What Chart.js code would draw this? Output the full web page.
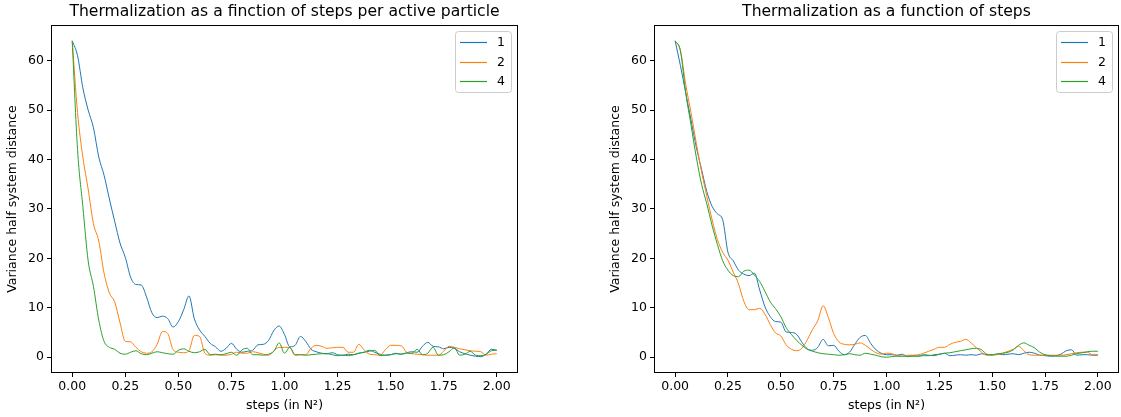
<!DOCTYPE html>
<html>
<head>
<meta charset="utf-8">
<script src="https://cdn.jsdelivr.net/npm/chart.js@4.4.1/dist/chart.umd.min.js"></script>
<style>
    body { margin: 0; background: #fff; width: 1121px; height: 417px; position: relative; overflow: hidden; }
    canvas { position: absolute; top: 0; }
</style>
</head>
<body>
<canvas id="chart-left" width="540" height="417" style="left:0"></canvas>
<canvas id="chart-right" width="561" height="417" style="left:560px"></canvas>
<script>
const steps = [
    0.000, 0.025, 0.050, 0.075, 0.100, 0.125, 0.150, 0.175, 0.200, 0.225,
    0.250, 0.275, 0.300, 0.325, 0.350, 0.375, 0.400, 0.425, 0.450, 0.475,
    0.500, 0.525, 0.550, 0.575, 0.600, 0.625, 0.650, 0.675, 0.700, 0.725,
    0.750, 0.775, 0.800, 0.825, 0.850, 0.875, 0.900, 0.925, 0.950, 0.975,
    1.000, 1.025, 1.050, 1.075, 1.100, 1.125, 1.150, 1.175, 1.200, 1.225,
    1.250, 1.275, 1.300, 1.325, 1.350, 1.375, 1.400, 1.425, 1.450, 1.475,
    1.500, 1.525, 1.550, 1.575, 1.600, 1.625, 1.650, 1.675, 1.700, 1.725,
    1.750, 1.775, 1.800, 1.825, 1.850, 1.875, 1.900, 1.925, 1.950, 1.975,
    2.000
];
const xTicks = [0, 0.25, 0.5, 0.75, 1, 1.25, 1.5, 1.75, 2];
const yTicks = [0, 10, 20, 30, 40, 50, 60];
const seriesLabels = ['1', '2', '4'];
const seriesColors = ['#1f77b4', '#ff7f0e', '#2ca02c'];

// per active particle (left)
const perParticle1 = [
    64, 61, 54.5, 50, 46.4, 40.5, 36.8, 32, 27.5, 23.1,
    20.2, 16.2, 14.7, 14.6, 12.2, 9, 8, 8.3, 7.8, 6.1,
    7.2, 9.6, 12.4, 7.8, 5.5, 4.2, 2.8, 2.1, 1.2, 1.8,
    2.8, 1.6, 1.0, 1.2, 1.4, 2.5, 2.6, 3.4, 5.4, 6.3,
    4.6, 2.1, 2.4, 4.2, 3.2, 1.6, 1.1, 0.8, 0.7, 0.9,
    0.5, 0.4, 0.6, 0.5, 0.8, 1.0, 1.4, 1.0, 0.6, 0.4,
    0.5, 0.8, 0.6, 0.9, 1.1, 1.0, 2.2, 3.0, 2.2, 2.1,
    1.7, 2.0, 1.8, 1.1, 0.7, 0.4, 0.2, 0.1, 0.6, 1.6,
    1.4
];
const perParticle2 = [
    64, 49.5, 40.5, 34, 27, 23.5, 17, 13, 11.2, 7,
    3.2, 3.1, 2, 1.1, 0.8, 1.1, 2.6, 5.2, 4.8, 1.5,
    1.0, 0.9, 1.3, 4.4, 4.2, 0.8, 0.4, 0.5, 0.4, 0.4,
    0.6, 1.0, 0.8, 0.8, 1.1, 0.9, 0.6, 0.4, 1.3, 2.0,
    2.0, 1.9, 0.4, 0.5, 0.5, 1.8, 2.4, 2.2, 1.8, 1.9,
    2.0, 2.0, 1.0, 1.0, 2.6, 1.5, 0.6, 0.5, 0.4, 1.5,
    2.4, 2.4, 2.3, 1.0, 0.7, 0.6, 0.5, 0.4, 0.4, 0.4,
    1.2, 2.2, 2.0, 1.7, 1.5, 1.3, 1.2, 1.1, 0.4, 0.6,
    0.7
];
const perParticle4 = [
    64, 42, 30.5, 19.5, 14.3, 7.5, 3.2, 2.0, 1.6, 0.8,
    0.6, 1.0, 1.3, 0.7, 0.5, 0.8, 1.1, 0.9, 0.7, 0.6,
    1.4, 1.7, 1.2, 0.9, 1.1, 1.6, 0.5, 0.6, 0.5, 0.7,
    1.0, 0.4, 1.5, 1.8, 0.5, 0.5, 0.4, 0.6, 1.2, 2.9,
    0.8, 2.0, 0.5, 0.5, 0.4, 0.5, 0.6, 0.7, 0.7, 0.5,
    0.3, 0.4, 0.3, 0.5, 0.8, 1.0, 1.2, 1.4, 0.3, 0.4,
    0.5, 0.7, 0.6, 0.8, 0.8, 1.6, 0.5, 0.8, 2.0, 0.4,
    0.5, 1.1, 1.9, 0.4, 0.6, 1.2, 0.4, 0.3, 0.6, 1.3,
    1.4
];

// per step (right)
const perStep1 = [
    64, 59, 53.5, 48, 42.5, 38, 33.5, 30.5, 29, 27.8,
    21.2, 19.5, 17.6, 16.8, 16.5, 17.0, 13.6, 10.2, 8.2, 7.2,
    7.1, 5.1, 5.0, 4.6, 3.0, 1.7, 1.4, 2.0, 3.6, 2.3,
    2.4, 1.2, 0.5, 1.0, 2.6, 4.0, 4.4, 2.8, 1.5, 0.8,
    0.5, 0.5, 0.4, 0.6, 0.1, 0.3, 0.2, 0.5, 0.4, 0.3,
    0.6, 0.8, 0.3, 0.4, 0.5, 0.4, 0.5, 0.4, 0.7, 0.5,
    0.4, 0.6, 0.5, 0.6, 0.7, 0.5, 0.8, 1.0, 0.8, 0.4,
    0.3, 0.2, 0.3, 0.6, 1.3, 1.5, 0.4, 0.5, 0.5, 0.4,
    0.4
];
const perStep2 = [
    64, 62, 55.2, 49.5, 43.3, 37.5, 32.5, 27.8, 23.8, 21.2,
    19.6, 17.2, 14.8, 11.3, 9.6, 9.6, 9.9, 8.7, 6.6, 4.9,
    4.3, 2.5, 1.6, 1.3, 1.8, 3.5, 5.6, 7.4, 10.4, 8.0,
    4.8, 3.1, 2.6, 2.5, 2.6, 2.9, 2.4, 1.6, 0.9, 0.6,
    0.8, 0.7, 0.3, 0.2, 0.4, 0.4, 0.5, 0.8, 1.2, 1.6,
    2.0, 2.0, 2.6, 3.0, 3.2, 3.6, 2.9, 1.9, 1.0, 0.4,
    0.5, 0.5, 0.8, 1.2, 1.6, 2.2, 1.3, 0.5, 0.4, 0.4,
    0.4, 0.4, 0.4, 0.4, 0.5, 0.7, 0.9, 1.0, 1.0, 0.5,
    0.5
];
const perStep4 = [
    64, 62, 53.5, 47, 40.5, 35, 31, 26.6, 22.8, 19.5,
    17.6, 16.5, 16.3, 17.4, 17.6, 16.6, 15.3, 13.3, 11.2, 9.8,
    8.2, 6.0, 4.6, 3.4, 2.4, 1.6, 1.2, 0.9, 0.7, 0.6,
    0.5, 0.4, 0.5, 0.7, 0.5, 0.4, 0.8, 0.6, 0.4, 0.1,
    0.0, 0.1, 0.2, 0.2, 0.2, 0.2, 0.2, 0.3, 0.3, 0.5,
    0.6, 0.8, 0.9, 1.1, 1.3, 1.5, 1.7, 1.8, 1.5, 0.6,
    0.5, 0.7, 0.8, 1.0, 1.5, 2.4, 2.9, 2.4, 1.9, 1.0,
    0.5, 0.3, 0.2, 0.2, 0.2, 0.4, 0.7, 0.9, 1.1, 1.2,
    1.2
];

const FONT = 'DejaVu Sans';

// frame round the plot area + matplotlib-style legend box
const frameLegend = {
    id: 'frameLegend',
    afterDraw(chart) {
        const { ctx, chartArea: a } = chart;
        ctx.save();
        ctx.strokeStyle = '#000';
        ctx.lineWidth = 1;
        ctx.strokeRect(a.left + 0.5, a.top + 0.5, a.right - a.left - 1, a.bottom - a.top - 1);

        const w = 56, h = 61;
        const bx = Math.round(a.right - 7 - w), by = Math.round(a.top + 6);
        ctx.beginPath();
        ctx.roundRect(bx + 0.5, by + 0.5, w, h, 3);
        ctx.fillStyle = 'rgba(255,255,255,0.8)';
        ctx.fill();
        ctx.strokeStyle = '#cccccc';
        ctx.stroke();

        ctx.font = `12.5px "${FONT}"`;
        ctx.textBaseline = 'middle';
        chart.data.datasets.forEach((ds, i) => {
            const y = Math.round(by + 11 + i * 19.5) + 0.5;
            ctx.strokeStyle = ds.borderColor;
            ctx.lineWidth = 1.2;
            ctx.beginPath();
            ctx.moveTo(bx + 5, y);
            ctx.lineTo(bx + 32, y);
            ctx.stroke();
            ctx.fillStyle = '#000';
            ctx.fillText(ds.label, bx + 42, y);
        });
        ctx.restore();
    }
};

function makeChart(id, title, series, padLeft, padRight) {
    const ctx = document.getElementById(id).getContext('2d');
    return new Chart(ctx, {
        type: 'line',
        data: {
            datasets: series.map((vals, i) => ({
                label: seriesLabels[i],
                data: steps.map((x, j) => ({ x, y: vals[j] })),
                borderColor: seriesColors[i],
                borderWidth: 1,
                pointRadius: 0,
                cubicInterpolationMode: 'monotone',
                order: series.length - 1 - i,
            })),
        },
        options: {
            responsive: false,
            animation: false,
            devicePixelRatio: 1,
            layout: { padding: { left: padLeft, right: padRight, top: 0, bottom: 0 } },
            plugins: {
                legend: { display: false },
                tooltip: { enabled: false },
                title: {
                    display: true,
                    fullSize: false,
                    text: title,
                    color: '#000',
                    font: { family: FONT, size: 15.6, weight: 'normal' },
                    padding: { top: 2.5, bottom: 3.8 },
                },
            },
            scales: {
                x: {
                    type: 'linear',
                    min: -0.1,
                    max: 2.1,
                    afterBuildTicks: s => { s.ticks = xTicks.map(v => ({ value: v })); },
                    afterFit: s => { s.height = 44; },
                    ticks: {
                        color: '#000',
                        padding: 2,
                        maxRotation: 0,
                        font: { family: FONT, size: 12.5 },
                        callback: v => v.toFixed(2),
                    },
                    grid: { drawOnChartArea: false, tickLength: 4, color: '#000' },
                    border: { display: false },
                    title: {
                        display: true,
                        text: 'steps (in N²)',
                        color: '#000',
                        font: { family: FONT, size: 12.5 },
                        padding: { top: 0, bottom: 3.5 },
                    },
                },
                y: {
                    type: 'linear',
                    min: -3.2,
                    max: 67.2,
                    afterBuildTicks: s => { s.ticks = yTicks.map(v => ({ value: v })); },
                    afterFit: s => { s.width = 51; },
                    ticks: {
                        color: '#000',
                        padding: 3,
                        font: { family: FONT, size: 12.5 },
                    },
                    grid: { drawOnChartArea: false, tickLength: 4, color: '#000' },
                    border: { display: false },
                    title: {
                        display: true,
                        text: 'Variance half system distance',
                        color: '#000',
                        font: { family: FONT, size: 12.5 },
                        padding: { top: 5.5, bottom: 0 },
                    },
                },
            },
        },
        plugins: [frameLegend],
    });
}

makeChart('chart-left', 'Thermalization as a finction of steps per active particle',
    [perParticle1, perParticle2, perParticle4], 0, 22);
makeChart('chart-right', 'Thermalization as a function of steps',
    [perStep1, perStep2, perStep4], 43, 2);
</script>
</body>
</html>
